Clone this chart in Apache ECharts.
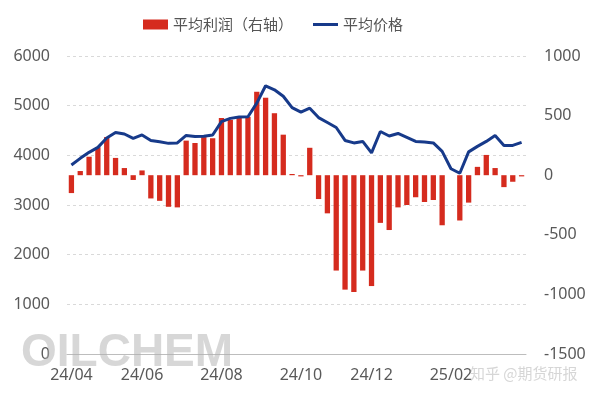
<!DOCTYPE html>
<html>
<head>
<meta charset="utf-8">
<script src="https://cdn.jsdelivr.net/npm/echarts@6/dist/echarts.min.js"></script>
<style>
  html, body { margin: 0; padding: 0; background: #fff; }
  #chart { width: 600px; height: 399px; }
</style>
</head>
<body>
<div id="chart"></div>
<script>
'use strict';

// weekly data, first week starts 2024-04-01
const startDate = Date.UTC(2024, 3, 1);
const weekCount = 52;

// average profit (right axis)
const profit = [
    -150, 35, 155, 235, 320, 145, 60, -40, 40, -195, -215, -265, -270,
    290, 270, 320, 310, 480, 465, 480, 490, 700, 650, 520, 340, 10, -10, 230,
    -200, -320, -800, -960, -980, -800, -930, -400, -460, -270, -250,
    -185, -225, -208, -420, null, -380, -230, 70, 170, 60, -100, -55, -10
];

// average price (left axis)
const price = [
    3805, 3939, 4060, 4160, 4350, 4460, 4430, 4340, 4410, 4300, 4274, 4241, 4250,
    4400, 4380, 4385, 4410, 4680, 4744, 4770, 4777, 5050, 5400, 5320, 5190, 4960, 4870, 4950,
    4760, 4660, 4560, 4300, 4250, 4280, 4050, 4480, 4390, 4440, 4360,
    4280, 4270, 4250, 4080, 3730, 3640, 4070, 4180, 4280, 4400, 4200, 4200, 4260
];

const seriesNames = ['平均利润（右轴）', '平均价格'];

const categories = [];
for (let i = 0; i < weekCount; i++) {
    const d = new Date(startDate + i * 7 * 86400000);
    categories.push(d.toISOString().slice(0, 10));
}

// label a week when it holds the 1st of an even month
function monthLabel(cat) {
    const d0 = new Date(cat + 'T00:00:00Z');
    for (let k = 0; k < 7; k++) {
        const d = new Date(d0.getTime() + k * 86400000);
        if (d.getUTCDate() === 1 && (d.getUTCMonth() + 1) % 2 === 0) {
            const yy = String(d.getUTCFullYear()).slice(2);
            const mm = String(d.getUTCMonth() + 1).padStart(2, '0');
            return yy + '/' + mm;
        }
    }
    return '';
}

const showTick = function (index, value) {
    return monthLabel(value) !== '';
};

const plain = function (v) {
    return String(v);
};

const font = '"Noto Sans", "Noto Sans CJK SC", sans-serif';

const option = {
    backgroundColor: '#fff',
    textStyle: { fontFamily: font },
    legend: {
        top: 12,
        left: 138,
        itemWidth: 25,
        itemHeight: 10,
        itemGap: 20,
        textStyle: { fontSize: 15, color: '#555', fontFamily: '"Noto Sans CJK SC", sans-serif' },
        data: [
            { name: seriesNames[0], icon: 'rect' },
            { name: seriesNames[1], icon: 'path://M0,0H25V3H0Z' }
        ]
    },
    grid: { left: 67, right: 74, top: 56, bottom: 45 },
    xAxis: {
        type: 'category',
        data: categories,
        axisLine: { lineStyle: { color: '#bdbdbd' } },
        axisTick: { inside: true, alignWithLabel: true, interval: showTick, length: 4, lineStyle: { color: '#bdbdbd' } },
        axisLabel: {
            interval: showTick,
            formatter: monthLabel,
            fontSize: 16,
            color: '#595959',
            margin: 13
        },
        splitLine: { show: false }
    },
    yAxis: [
        {
            type: 'value',
            min: 0,
            max: 6000,
            interval: 1000,
            axisLine: { show: false },
            axisTick: { show: false },
            axisLabel: { fontSize: 16, color: '#595959', margin: 17, formatter: plain },
            splitLine: { lineStyle: { color: '#d9d9d9', type: [3, 3] } }
        },
        {
            type: 'value',
            min: -1500,
            max: 1000,
            interval: 500,
            axisLine: { show: false },
            axisTick: { show: false },
            axisLabel: { fontSize: 16, color: '#595959', margin: 18, formatter: plain },
            splitLine: { show: false }
        }
    ],
    series: [
        {
            name: seriesNames[0],
            type: 'bar',
            yAxisIndex: 1,
            data: profit,
            barWidth: '60%',
            itemStyle: { color: '#d52b1e' }
        },
        {
            name: seriesNames[1],
            type: 'line',
            yAxisIndex: 0,
            data: price,
            symbol: 'none',
            lineStyle: { color: '#173a8a', width: 3 },
            itemStyle: { color: '#173a8a' }
        }
    ],
    graphic: [
        {
            type: 'text',
            left: 21,
            top: 330,
            z: 100,
            style: {
                text: 'OILCHEM',
                font: 'bold 46px "Liberation Sans", Arial, sans-serif',
                fill: 'rgba(175,175,175,0.5)'
            }
        },
        {
            type: 'text',
            left: 470,
            top: 366,
            z: 100,
            style: {
                text: '知乎 @期货研报',
                font: '15px "Noto Sans CJK SC", sans-serif',
                fill: 'rgba(200,200,200,0.75)'
            }
        }
    ]
};

const chart = echarts.init(document.getElementById('chart'));
chart.setOption(option);
window.addEventListener('resize', function () {
    chart.resize();
});
</script>
</body>
</html>
